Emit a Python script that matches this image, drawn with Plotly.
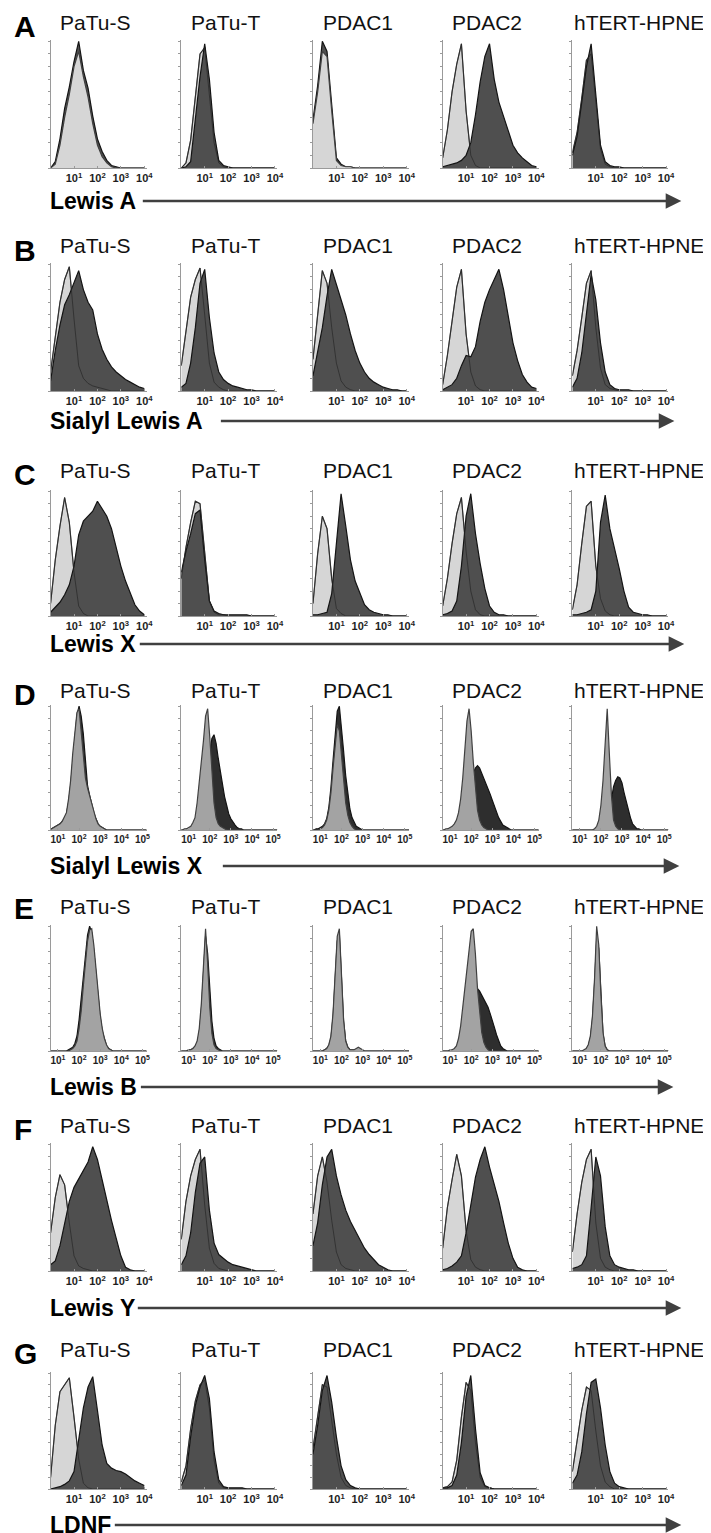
"""Flow cytometry overlays: glycan antigen staining across five pancreatic cell lines."""

import plotly.graph_objects as go

CELL_LINES = ["PaTu-S", "PaTu-T", "PDAC1", "PDAC2", "hTERT-HPNE"]
PANEL_LETTERS = ["A", "B", "C", "D", "E", "F", "G"]
ANTIGENS = ["Lewis A", "Sialyl Lewis A", "Lewis X", "Sialyl Lewis X", "Lewis B", "Lewis Y", "LDNF"]

# log10 fluorescence bin centres
BINS_4DEC = [0.0, 0.2, 0.4, 0.6, 0.8, 1.0, 1.2, 1.4, 1.6, 1.8, 2.0,
             2.2, 2.4, 2.6, 2.8, 3.0, 3.2, 3.4, 3.6, 3.8, 4.0]
BINS_5DEC = [0.6, 0.7, 0.8, 0.9,
             1.0, 1.1, 1.2, 1.3, 1.4, 1.5, 1.6, 1.7, 1.8, 1.9,
             2.0, 2.1, 2.2, 2.3, 2.4, 2.5, 2.6, 2.7, 2.8, 2.9,
             3.0, 3.1, 3.2, 3.3, 3.4, 3.5, 3.6, 3.7, 3.8, 3.9,
             4.0, 4.1, 4.2, 4.3, 4.4, 4.5, 4.6, 4.7, 4.8, 4.9,
             5.0, 5.1, 5.2]
TICKS_4DEC = [1, 2, 3, 4]
TICKS_5DEC = [1, 2, 3, 4, 5]

# counts as % of mode; one list per cell line (PaTu-S, PaTu-T, PDAC1, PDAC2, hTERT-HPNE)
LEWIS_A_CONTROL = [
    [0, 3, 18, 40, 58, 80, 92, 72, 56, 35, 18, 9, 4, 1, 0, 0, 0, 0, 0, 0, 0],
    [0, 4, 22, 55, 90, 95, 60, 20, 4, 1, 0, 0, 0, 0, 0, 0, 0, 0, 0, 0, 0],
    [35, 60, 92, 88, 45, 6, 2, 1, 1, 0, 0, 0, 0, 0, 0, 0, 0, 0, 0, 0, 0],
    [8, 30, 60, 82, 98, 45, 10, 2, 0, 0, 0, 0, 0, 0, 0, 0, 0, 0, 0, 0, 0],
    [12, 28, 55, 85, 90, 55, 15, 3, 1, 0, 0, 0, 0, 0, 0, 0, 0, 0, 0, 0, 0],
]
LEWIS_A_STAINED = [
    [0, 5, 23, 47, 64, 84, 100, 77, 63, 41, 23, 13, 6, 2, 1, 0, 0, 0, 0, 0, 0],
    [0, 1, 5, 37, 72, 98, 70, 28, 6, 2, 1, 0, 0, 0, 0, 0, 0, 0, 0, 0, 0],
    [38, 65, 100, 92, 50, 8, 3, 1, 1, 0, 0, 0, 0, 0, 0, 0, 0, 0, 0, 0, 0],
    [1, 2, 3, 4, 6, 10, 20, 42, 68, 88, 98, 70, 52, 40, 28, 18, 12, 8, 5, 2, 1],
    [10, 25, 52, 80, 98, 60, 18, 5, 2, 1, 1, 0, 0, 0, 0, 0, 0, 0, 0, 0, 0],
]

SIALYL_LEWIS_A_CONTROL = [
    [15, 42, 70, 88, 98, 57, 20, 10, 6, 4, 3, 2, 1, 0, 0, 0, 0, 0, 0, 0, 0],
    [20, 47, 74, 88, 97, 60, 22, 7, 3, 1, 0, 0, 0, 0, 0, 0, 0, 0, 0, 0, 0],
    [25, 60, 95, 85, 50, 22, 8, 3, 1, 0, 0, 0, 0, 0, 0, 0, 0, 0, 0, 0, 0],
    [5, 28, 55, 82, 96, 45, 15, 4, 1, 0, 0, 0, 0, 0, 0, 0, 0, 0, 0, 0, 0],
    [12, 32, 58, 85, 95, 50, 18, 5, 2, 1, 0, 0, 0, 0, 0, 0, 0, 0, 0, 0, 0],
]
SIALYL_LEWIS_A_STAINED = [
    [8, 32, 52, 68, 76, 86, 95, 80, 70, 64, 45, 33, 25, 19, 15, 12, 9, 7, 5, 3, 2],
    [3, 6, 22, 50, 85, 96, 58, 30, 15, 9, 6, 4, 3, 2, 1, 1, 0, 0, 0, 0, 0],
    [12, 30, 50, 75, 96, 84, 72, 60, 45, 32, 22, 15, 10, 7, 5, 3, 2, 1, 1, 0, 0],
    [1, 3, 5, 10, 20, 28, 27, 35, 55, 70, 80, 88, 96, 80, 58, 38, 24, 13, 7, 3, 2],
    [3, 10, 30, 62, 92, 72, 38, 15, 5, 2, 1, 1, 1, 0, 0, 0, 0, 0, 0, 0, 0],
]

LEWIS_X_CONTROL = [
    [10, 45, 72, 95, 75, 35, 8, 2, 0, 0, 0, 0, 0, 0, 0, 0, 0, 0, 0, 0, 0],
    [30, 55, 75, 92, 90, 50, 12, 3, 1, 1, 0, 0, 0, 0, 0, 0, 0, 0, 0, 0, 0],
    [10, 50, 80, 70, 30, 6, 2, 0, 0, 0, 0, 0, 0, 0, 0, 0, 0, 0, 0, 0, 0],
    [8, 30, 58, 82, 95, 52, 20, 5, 1, 0, 0, 0, 0, 0, 0, 0, 0, 0, 0, 0, 0],
    [5, 25, 58, 88, 92, 40, 14, 4, 1, 0, 0, 0, 0, 0, 0, 0, 0, 0, 0, 0, 0],
]
LEWIS_X_STAINED = [
    [3, 7, 11, 17, 25, 40, 65, 76, 80, 84, 92, 86, 80, 70, 55, 40, 28, 18, 9, 4, 1],
    [35, 52, 66, 82, 85, 45, 12, 4, 2, 1, 1, 1, 1, 1, 1, 0, 0, 0, 0, 0, 0],
    [1, 1, 2, 3, 18, 60, 98, 72, 45, 28, 18, 9, 5, 3, 2, 1, 1, 0, 0, 0, 0],
    [1, 2, 4, 12, 40, 80, 98, 66, 42, 22, 8, 3, 1, 1, 0, 0, 0, 0, 0, 0, 0],
    [1, 1, 2, 3, 5, 20, 75, 97, 70, 55, 38, 20, 7, 3, 2, 1, 1, 0, 0, 0, 0],
]

SIALYL_LEWIS_X_CONTROL = [
    [0, 1, 2, 3,
     4, 5, 7, 10, 14, 25, 40, 62, 82, 95,
     98, 80, 58, 42, 34, 28, 20, 14, 9, 5,
     3, 2, 1, 0, 0, 0, 0, 0, 0, 0,
     0, 0, 0, 0, 0, 0, 0, 0, 0, 0,
     0, 0, 0],
    [0, 0, 1, 1,
     2, 3, 6, 10, 22, 38, 55, 72, 92, 98,
     75, 45, 22, 10, 5, 3, 2, 1, 0, 0,
     0, 0, 0, 0, 0, 0, 0, 0, 0, 0,
     0, 0, 0, 0, 0, 0, 0, 0, 0, 0,
     0, 0, 0],
    [0, 0, 0, 0,
     1, 2, 4, 8, 16, 30, 50, 70, 85, 80,
     60, 40, 22, 12, 6, 3, 1, 0, 0, 0,
     0, 0, 0, 0, 0, 0, 0, 0, 0, 0,
     0, 0, 0, 0, 0, 0, 0, 0, 0, 0,
     0, 0, 0],
    [0, 0, 1, 1,
     2, 3, 5, 8, 14, 25, 42, 65, 88, 98,
     80, 55, 32, 16, 8, 4, 2, 1, 0, 0,
     0, 0, 0, 0, 0, 0, 0, 0, 0, 0,
     0, 0, 0, 0, 0, 0, 0, 0, 0, 0,
     0, 0, 0],
    [0, 0, 0, 0,
     0, 0, 0, 0, 0, 0, 0, 1, 3, 8,
     20, 40, 65, 98, 62, 28, 8, 3, 1, 0,
     0, 0, 0, 0, 0, 0, 0, 0, 0, 0,
     0, 0, 0, 0, 0, 0, 0, 0, 0, 0,
     0, 0, 0],
]
SIALYL_LEWIS_X_STAINED = [
    [0, 1, 2, 3,
     4, 5, 7, 9, 13, 22, 36, 56, 78, 93,
     100, 92, 78, 55, 36, 28, 20, 14, 9, 5,
     3, 2, 1, 0, 0, 0, 0, 0, 0, 0,
     0, 0, 0, 0, 0, 0, 0, 0, 0, 0,
     0, 0, 0],
    [0, 0, 0, 1,
     1, 2, 3, 4, 6, 10, 15, 25, 38, 50,
     65, 74, 77, 70, 58, 47, 36, 27, 20, 13,
     9, 6, 4, 2, 1, 1, 0, 0, 0, 0,
     0, 0, 0, 0, 0, 0, 0, 0, 0, 0,
     0, 0, 0],
    [0, 0, 1, 1,
     2, 3, 5, 9, 18, 34, 56, 78, 96, 100,
     84, 64, 44, 28, 17, 10, 6, 3, 2, 1,
     0, 0, 0, 0, 0, 0, 0, 0, 0, 0,
     0, 0, 0, 0, 0, 0, 0, 0, 0, 0,
     0, 0, 0],
    [0, 0, 0, 1,
     1, 2, 3, 4, 6, 9, 13, 18, 25, 32,
     40, 46, 50, 52, 50, 46, 42, 38, 34, 29,
     24, 19, 14, 10, 7, 4, 3, 2, 1, 0,
     0, 0, 0, 0, 0, 0, 0, 0, 0, 0,
     0, 0, 0],
    [0, 0, 0, 0,
     0, 0, 0, 0, 0, 0, 0, 0, 0, 0,
     1, 2, 4, 8, 15, 26, 35, 40, 43, 42,
     38, 30, 23, 15, 10, 5, 3, 1, 1, 0,
     0, 0, 0, 0, 0, 0, 0, 0, 0, 0,
     0, 0, 0],
]

LEWIS_B_CONTROL = [
    [0, 0, 0, 0,
     0, 0, 0, 0, 0, 0, 1, 2, 4, 8,
     18, 32, 52, 72, 88, 97, 98, 85, 65, 45,
     30, 18, 10, 5, 2, 1, 0, 0, 0, 0,
     0, 0, 0, 0, 0, 0, 0, 0, 0, 0,
     0, 0, 0],
    [0, 0, 0, 0,
     1, 1, 2, 4, 8, 18, 38, 70, 98, 70,
     35, 14, 5, 2, 1, 0, 0, 0, 0, 0,
     0, 0, 0, 0, 0, 0, 0, 0, 0, 0,
     0, 0, 0, 0, 0, 0, 0, 0, 0, 0,
     0, 0, 0],
    [0, 0, 0, 0,
     0, 0, 1, 2, 5, 12, 30, 62, 92, 98,
     60, 25, 8, 3, 1, 1, 1, 2, 3, 2,
     1, 0, 0, 0, 0, 0, 0, 0, 0, 0,
     0, 0, 0, 0, 0, 0, 0, 0, 0, 0,
     0, 0, 0],
    [0, 0, 0, 0,
     1, 1, 2, 4, 10, 20, 35, 50, 66, 82,
     96, 98, 78, 50, 30, 15, 7, 3, 1, 0,
     0, 0, 0, 0, 0, 0, 0, 0, 0, 0,
     0, 0, 0, 0, 0, 0, 0, 0, 0, 0,
     0, 0, 0],
    [0, 0, 0, 0,
     0, 0, 1, 2, 5, 12, 28, 58, 100, 85,
     45, 15, 4, 1, 0, 0, 0, 0, 0, 0,
     0, 0, 0, 0, 0, 0, 0, 0, 0, 0,
     0, 0, 0, 0, 0, 0, 0, 0, 0, 0,
     0, 0, 0],
]
LEWIS_B_STAINED = [
    [0, 0, 0, 0,
     0, 0, 0, 0, 0, 1, 2, 3, 6, 12,
     25, 42, 62, 80, 93, 100, 95, 80, 60, 42,
     27, 16, 9, 4, 2, 1, 0, 0, 0, 0,
     0, 0, 0, 0, 0, 0, 0, 0, 0, 0,
     0, 0, 0],
    [0, 0, 0, 0,
     1, 1, 2, 3, 6, 14, 32, 62, 92, 78,
     48, 24, 10, 4, 2, 1, 0, 0, 0, 0,
     0, 0, 0, 0, 0, 0, 0, 0, 0, 0,
     0, 0, 0, 0, 0, 0, 0, 0, 0, 0,
     0, 0, 0],
    [0, 0, 0, 0,
     0, 0, 1, 2, 4, 10, 27, 58, 88, 94,
     58, 24, 8, 3, 1, 1, 1, 1, 2, 1,
     0, 0, 0, 0, 0, 0, 0, 0, 0, 0,
     0, 0, 0, 0, 0, 0, 0, 0, 0, 0,
     0, 0, 0],
    [0, 0, 0, 0,
     0, 0, 1, 2, 3, 5, 8, 12, 18, 26,
     35, 43, 48, 50, 48, 45, 42, 39, 35, 30,
     25, 19, 13, 8, 4, 2, 1, 0, 0, 0,
     0, 0, 0, 0, 0, 0, 0, 0, 0, 0,
     0, 0, 0],
    [0, 0, 0, 0,
     0, 0, 0, 1, 4, 10, 25, 54, 90, 82,
     42, 14, 4, 1, 0, 0, 0, 0, 0, 0,
     0, 0, 0, 0, 0, 0, 0, 0, 0, 0,
     0, 0, 0, 0, 0, 0, 0, 0, 0, 0,
     0, 0, 0],
]

LEWIS_Y_CONTROL = [
    [30, 58, 76, 68, 38, 12, 4, 2, 1, 0, 0, 0, 0, 0, 0, 0, 0, 0, 0, 0, 0],
    [25, 55, 75, 88, 96, 52, 18, 6, 2, 1, 0, 0, 0, 0, 0, 0, 0, 0, 0, 0, 0],
    [45, 75, 90, 70, 40, 15, 5, 2, 1, 0, 0, 0, 0, 0, 0, 0, 0, 0, 0, 0, 0],
    [18, 50, 72, 92, 75, 32, 9, 3, 1, 0, 0, 0, 0, 0, 0, 0, 0, 0, 0, 0, 0],
    [15, 45, 70, 88, 96, 38, 10, 3, 1, 0, 0, 0, 0, 0, 0, 0, 0, 0, 0, 0, 0],
]
LEWIS_Y_STAINED = [
    [5, 8, 20, 38, 55, 66, 73, 79, 86, 98, 88, 72, 55, 40, 26, 12, 3, 1, 0, 0, 0],
    [5, 12, 30, 62, 85, 90, 48, 22, 13, 10, 7, 5, 4, 3, 2, 1, 0, 0, 0, 0, 0],
    [20, 38, 68, 90, 96, 75, 60, 48, 39, 32, 25, 18, 13, 9, 5, 3, 1, 0, 0, 0, 0],
    [1, 2, 4, 7, 12, 30, 52, 74, 88, 98, 82, 68, 55, 38, 22, 10, 3, 1, 0, 0, 0],
    [2, 3, 5, 12, 50, 90, 75, 35, 12, 5, 3, 2, 1, 1, 0, 0, 0, 0, 0, 0, 0],
]

LDNF_CONTROL = [
    [10, 55, 84, 90, 96, 62, 26, 5, 1, 0, 0, 0, 0, 0, 0, 0, 0, 0, 0, 0, 0],
    [6, 20, 52, 76, 90, 94, 70, 25, 5, 1, 0, 0, 0, 0, 0, 0, 0, 0, 0, 0, 0],
    [35, 62, 90, 88, 60, 30, 10, 3, 1, 0, 0, 0, 0, 0, 0, 0, 0, 0, 0, 0, 0],
    [1, 2, 6, 25, 62, 92, 85, 40, 10, 2, 1, 0, 0, 0, 0, 0, 0, 0, 0, 0, 0],
    [15, 40, 68, 88, 85, 50, 20, 6, 2, 0, 0, 0, 0, 0, 0, 0, 0, 0, 0, 0, 0],
]
LDNF_STAINED = [
    [0, 1, 2, 4, 7, 15, 42, 70, 88, 97, 68, 38, 22, 18, 16, 15, 13, 10, 7, 5, 3],
    [3, 12, 45, 72, 88, 98, 78, 32, 8, 2, 1, 1, 1, 1, 0, 0, 0, 0, 0, 0, 0],
    [30, 55, 85, 98, 75, 45, 20, 8, 3, 1, 0, 0, 0, 0, 0, 0, 0, 0, 0, 0, 0],
    [1, 1, 3, 12, 40, 80, 98, 52, 14, 3, 1, 0, 0, 0, 0, 0, 0, 0, 0, 0, 0],
    [5, 12, 32, 65, 92, 95, 70, 38, 15, 5, 2, 1, 0, 0, 0, 0, 0, 0, 0, 0, 0],
]

HISTOGRAMS = {
    "Lewis A": (LEWIS_A_CONTROL, LEWIS_A_STAINED),
    "Sialyl Lewis A": (SIALYL_LEWIS_A_CONTROL, SIALYL_LEWIS_A_STAINED),
    "Lewis X": (LEWIS_X_CONTROL, LEWIS_X_STAINED),
    "Sialyl Lewis X": (SIALYL_LEWIS_X_CONTROL, SIALYL_LEWIS_X_STAINED),
    "Lewis B": (LEWIS_B_CONTROL, LEWIS_B_STAINED),
    "Lewis Y": (LEWIS_Y_CONTROL, LEWIS_Y_STAINED),
    "LDNF": (LDNF_CONTROL, LDNF_STAINED),
}
FIVE_DECADE = {"Sialyl Lewis X", "Lewis B"}
# panels where the isotype overlay sits above the stained sample
CONTROL_ON_TOP = {
    "Lewis A": [0, 2],
    "Sialyl Lewis X": [0, 1, 2, 3, 4],
    "Lewis B": [0, 1, 2, 3, 4],
}

# ---- page geometry (pixels) ----
W, H = 711, 1533
FONT = "Arial, Liberation Sans, sans-serif"
COL_LEFT = [43, 175, 308, 439, 570]
PANEL_W = 97
ROW_TOP = [32, 255, 482, 697, 917, 1135, 1364]
ROW_BOTTOM = [160, 383, 608, 822, 1043, 1263, 1481]
TITLE_Y = [15, 237, 462, 682, 898, 1117, 1341]
LETTER_Y = [18, 242, 467, 686, 900, 1121, 1345]
LABEL_Y = [193, 413, 636, 858, 1079, 1300, 1517]
ARROW_START = [140, 218, 137, 220, 138, 135, 112]
ARROW_END = [680, 673, 683, 678, 672, 680, 680]

AXIS_GRAY = "#9a9a9a"
LIGHT_FILL, DARK_FILL = "#d6d6d6", "#4f4f4f"
MID_FILL, BLACK_FILL = "#a3a3a3", "#2e2e2e"


def px(x):
    return x / W


def py(y):
    return 1 - y / H


fig = go.Figure()
layout_axes = {}

for r, antigen in enumerate(ANTIGENS):
    five = antigen in FIVE_DECADE
    bins = BINS_5DEC if five else BINS_4DEC
    ticks = TICKS_5DEC if five else TICKS_4DEC
    xrange_ = [0.65, 5.2] if five else [0.0, 4.1]
    xs = [10 ** b for b in bins]
    controls, stained = HISTOGRAMS[antigen]
    ctrl_fill = MID_FILL if five else LIGHT_FILL
    stain_fill = BLACK_FILL if five else DARK_FILL

    for c in range(len(CELL_LINES)):
        k = r * len(CELL_LINES) + c + 1
        sfx = "" if k == 1 else str(k)
        ctrl, stain = controls[c], stained[c]
        assert len(ctrl) == len(bins) and len(stain) == len(bins), (antigen, c)
        common = dict(x=xs, xaxis="x" + sfx, yaxis="y" + sfx, mode="lines",
                      hoverinfo="skip", showlegend=False)

        ctrl_trace = go.Scatter(y=ctrl, fill="tozeroy", fillcolor=ctrl_fill,
                                line=dict(color="#404040", width=1.2), **common)
        stain_trace = go.Scatter(y=stain, fill="tozeroy", fillcolor=stain_fill,
                                 line=dict(color="#141414", width=1.2), **common)
        if c in CONTROL_ON_TOP.get(antigen, []):
            fig.add_traces([stain_trace, ctrl_trace])
        else:
            fig.add_traces([ctrl_trace, stain_trace,
                            go.Scatter(y=ctrl, line=dict(color="#262626", width=0.7), **common)])

        x0 = COL_LEFT[c]
        layout_axes["xaxis" + sfx] = dict(
            type="log", range=xrange_, domain=[px(x0), px(x0 + PANEL_W)],
            anchor="y" + sfx, showgrid=False, zeroline=False,
            showline=True, linecolor=AXIS_GRAY, linewidth=1,
            ticks="inside", ticklen=2, tickcolor=AXIS_GRAY,
            tickvals=[10 ** t for t in ticks],
            ticktext=[f"10<sup>{t}</sup>" for t in ticks],
            tickfont=dict(family=FONT, size=10 if five else 11, color="#1e1e1e", weight="bold"),
            fixedrange=True,
        )
        layout_axes["yaxis" + sfx] = dict(
            range=[0, 101], domain=[py(ROW_BOTTOM[r]), py(ROW_TOP[r])],
            anchor="x" + sfx, showgrid=False, zeroline=False,
            showline=True, linecolor=AXIS_GRAY, linewidth=1,
            ticks="outside", ticklen=2, tickcolor=AXIS_GRAY, dtick=10,
            showticklabels=False, fixedrange=True,
        )

annotations = []
for r, antigen in enumerate(ANTIGENS):
    annotations.append(dict(
        text=f"<b>{PANEL_LETTERS[r]}</b>", x=px(4), y=py(LETTER_Y[r]),
        xanchor="left", yanchor="middle", showarrow=False,
        font=dict(family=FONT, size=30, color="#000"),
    ))
    for c, cell in enumerate(CELL_LINES):
        last = c == len(CELL_LINES) - 1
        annotations.append(dict(
            text=cell, x=px(COL_LEFT[c] + (0 if last else 45)), y=py(TITLE_Y[r]),
            xanchor="left" if last else "center", yanchor="middle", showarrow=False,
            font=dict(family=FONT, size=21, color="#111"),
        ))
    annotations.append(dict(
        text=f"<b>{antigen}</b>", x=px(40), y=py(LABEL_Y[r]),
        xanchor="left", yanchor="middle", showarrow=False,
        font=dict(family=FONT, size=23, color="#000"),
    ))
    annotations.append(dict(
        text="", x=px(ARROW_END[r]), y=py(LABEL_Y[r]),
        ax=ARROW_START[r] - ARROW_END[r], ay=0,
        showarrow=True, arrowhead=2, arrowsize=1.25, arrowwidth=2.5,
        arrowcolor="#404040",
    ))
for a in annotations:
    a.setdefault("xref", "paper")
    a.setdefault("yref", "paper")

fig.update_layout(
    width=W, height=H,
    margin=dict(l=0, r=0, t=0, b=0),
    paper_bgcolor="white", plot_bgcolor="white",
    font=dict(family=FONT, color="#111"),
    showlegend=False,
    annotations=annotations,
    **layout_axes,
)

fig.write_html("out.html", config={"displayModeBar": False})
